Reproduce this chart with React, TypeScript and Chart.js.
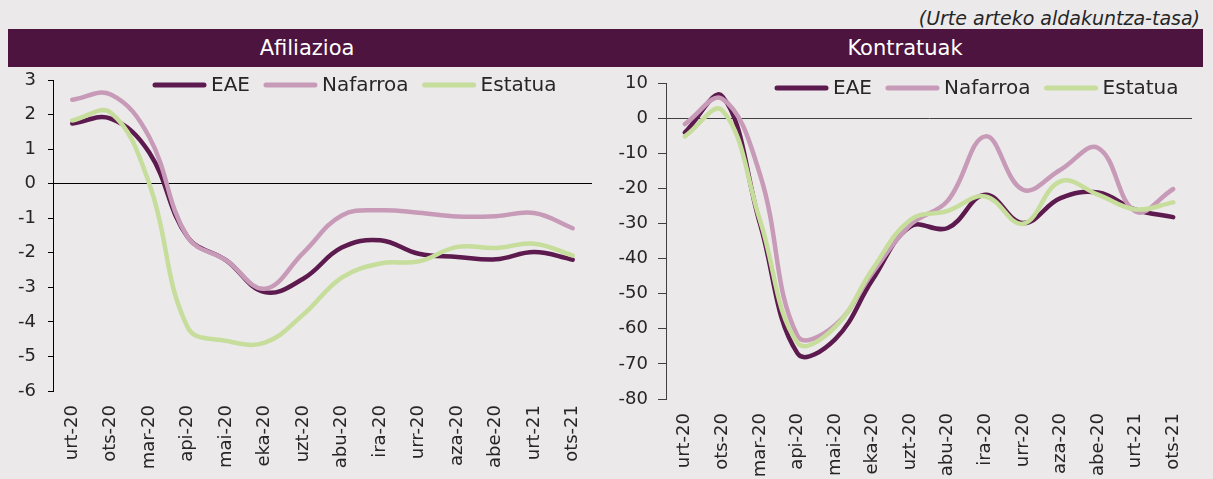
import React, { useEffect, useRef } from "react";
import { Chart, registerables } from "chart.js";

Chart.register(...registerables);

// ---------- data ----------
const months = [
  "urt-20", "ots-20", "mar-20", "api-20", "mai-20", "eka-20", "uzt-20",
  "abu-20", "ira-20", "urr-20", "aza-20", "abe-20", "urt-21", "ots-21",
];

const seriesNames = ["EAE", "Nafarroa", "Estatua"];
const seriesColors = ["#5c1a4e", "#c79bb8", "#c6dd9b"];

const afiliazioaEAE = [1.74, 1.88, 0.9, -1.55, -2.22, -3.14, -2.75, -1.85, -1.64, -2.03, -2.12, -2.19, -1.98, -2.2];
const afiliazioaNafarroa = [2.43, 2.58, 1.35, -1.55, -2.22, -3.04, -2.0, -0.92, -0.77, -0.84, -0.95, -0.94, -0.85, -1.29];
const afiliazioaEstatua = [1.83, 2.05, 0.0, -4.16, -4.55, -4.6, -3.79, -2.72, -2.31, -2.25, -1.83, -1.86, -1.74, -2.08];

const kontratuakEAE = [-4.1, 6.2, -30, -67, -63, -46, -30.9, -31.3, -21.8, -29.9, -22.8, -21.2, -26.1, -28.2];
const kontratuakNafarroa = [-1.7, 5.5, -16, -62, -59, -44, -30.4, -23.5, -5.2, -20.4, -14.7, -8.5, -26.6, -20.2];
const kontratuakEstatua = [-5.2, 2.2, -29, -64, -59.5, -43, -29, -26.4, -22.3, -30.1, -18, -21.8, -26, -24];

const afiliazioaTitle = "Afiliazioa";
const kontratuakTitle = "Kontratuak";
const noteText = "(Urte arteko aldakuntza-tasa)";

// ---------- style ----------
const FONT = "'DejaVu Sans', sans-serif";
const TEXT_COLOR = "#262626";
const BG = "#ebe9ea";
const BAR = "#4d1440";

const legendPlugin = {
  id: "customLegend",
  afterDraw(chart: any, _args: any, opts: any) {
    if (!opts || opts.x === undefined) return;
    const ctx = chart.ctx;
    ctx.save();
    ctx.font = `${opts.fontSize}px ${FONT}`;
    ctx.textBaseline = "middle";
    ctx.textAlign = "left";
    let x = opts.x;
    const y = opts.y;
    const order = opts.order as number[];
    order.forEach((i: number) => {
      const ds = chart.data.datasets[i];
      ctx.strokeStyle = ds.borderColor;
      ctx.lineWidth = 5;
      ctx.lineCap = "round";
      ctx.beginPath();
      ctx.moveTo(x + 2, y);
      ctx.lineTo(x + opts.lineLen - 2, y);
      ctx.stroke();
      x += opts.lineLen + 5;
      ctx.fillStyle = TEXT_COLOR;
      ctx.fillText(ds.label, x, y + 1);
      x += ctx.measureText(ds.label).width + opts.gap;
    });
    ctx.restore();
  },
};

type PanelProps = {
  left: number;
  top: number;
  width: number;
  height: number;
  series: number[][];
  yMin: number;
  yMax: number;
  yStep: number;
  axisColor: string;
  zeroColor: string;
  yWidth: number;
  xHeight: number;
  padTop: number;
  padRight: number;
  tickLen: number;
  tickPad: number;
  legendX: number;
  legendY: number;
};

function Panel(p: PanelProps) {
  const ref = useRef<HTMLCanvasElement | null>(null);
  useEffect(() => {
    if (!ref.current) return;
    const datasets = seriesNames.map((name, i) => ({
      label: name,
      data: p.series[i],
      borderColor: seriesColors[i],
      backgroundColor: seriesColors[i],
      borderWidth: 4.5,
      pointRadius: 0,
      tension: 0.4,
      borderCapStyle: "round" as const,
      borderJoinStyle: "round" as const,
      fill: false,
      order: 3 - i,
    }));
    const chart = new Chart(ref.current, {
      type: "line",
      data: { labels: months, datasets },
      plugins: [legendPlugin],
      options: {
        responsive: false,
        animation: false,
        devicePixelRatio: 1,
        layout: { padding: { top: p.padTop, right: p.padRight, left: 0, bottom: 0 } },
        plugins: {
          legend: { display: false },
          tooltip: { enabled: false },
          title: { display: false },
          customLegend: {
            x: p.legendX,
            y: p.legendY,
            fontSize: 20,
            lineLen: 53,
            gap: 14,
            order: [0, 1, 2],
          },
        } as any,
        scales: {
          x: {
            type: "category",
            offset: true,
            grid: { display: false, drawTicks: false },
            border: { display: false },
            ticks: {
              autoSkip: false,
              minRotation: 90,
              maxRotation: 90,
              padding: 14,
              color: TEXT_COLOR,
              font: { family: FONT, size: 18 },
            },
            afterFit: (s: any) => {
              s.height = p.xHeight;
              s.paddingLeft = 0;
              s.paddingRight = 0;
            },
          },
          y: {
            min: p.yMin,
            max: p.yMax,
            ticks: {
              stepSize: p.yStep,
              padding: p.tickPad,
              color: TEXT_COLOR,
              font: { family: FONT, size: 18 },
            },
            grid: {
              color: (c: any) => (c.tick && c.tick.value === 0 ? p.zeroColor : "rgba(0,0,0,0)"),
              tickColor: p.axisColor,
              tickLength: p.tickLen,
              lineWidth: 1,
            },
            border: { display: true, color: p.axisColor, width: 1 },
            afterFit: (s: any) => {
              s.width = p.yWidth;
              s.paddingTop = 0;
              s.paddingBottom = 0;
            },
          },
        },
      } as any,
    });
    return () => chart.destroy();
  }, []);
  return (
    <canvas
      ref={ref}
      width={p.width}
      height={p.height}
      style={{ position: "absolute", left: p.left, top: p.top, width: p.width, height: p.height }}
    />
  );
}

export default function App() {
  return (
    <div
      style={{
        position: "absolute",
        left: 0,
        top: 0,
        width: 1213,
        height: 479,
        background: BG,
        overflow: "hidden",
        fontFamily: FONT,
      }}
    >
      <div
        style={{
          position: "absolute",
          right: 13,
          top: 5,
          height: 27,
          lineHeight: "27px",
          fontSize: 19,
          fontStyle: "italic",
          color: TEXT_COLOR,
          whiteSpace: "nowrap",
        }}
      >
        {noteText}
      </div>
      <div style={{ position: "absolute", left: 8, top: 29, width: 1195, height: 38, background: BAR }} />
      <div
        style={{
          position: "absolute",
          left: 307 - 150,
          top: 29,
          width: 300,
          height: 38,
          lineHeight: "38px",
          textAlign: "center",
          color: "#ffffff",
          fontSize: 21,
        }}
      >
        {afiliazioaTitle}
      </div>
      <div
        style={{
          position: "absolute",
          left: 905 - 150,
          top: 29,
          width: 300,
          height: 38,
          lineHeight: "38px",
          textAlign: "center",
          color: "#ffffff",
          fontSize: 21,
        }}
      >
        {kontratuakTitle}
      </div>
      <Panel
        left={0}
        top={67}
        width={600}
        height={412}
        series={[afiliazioaEAE, afiliazioaNafarroa, afiliazioaEstatua]}
        yMin={-6}
        yMax={3}
        yStep={1}
        axisColor="#000000"
        zeroColor="#000000"
        yWidth={53}
        xHeight={88}
        padTop={13}
        padRight={8}
        tickLen={5}
        tickPad={12}
        legendX={153}
        legendY={18}
      />
      <Panel
        left={600}
        top={67}
        width={613}
        height={412}
        series={[kontratuakEAE, kontratuakNafarroa, kontratuakEstatua]}
        yMin={-80}
        yMax={10}
        yStep={10}
        axisColor="#404040"
        zeroColor="#404040"
        yWidth={66}
        xHeight={80}
        padTop={16}
        padRight={21}
        tickLen={8}
        tickPad={10}
        legendX={175}
        legendY={21}
      />
    </div>
  );
}
